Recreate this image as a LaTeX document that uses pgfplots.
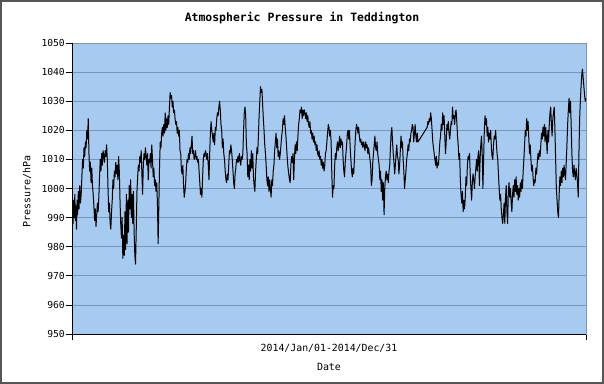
\documentclass[border=0pt]{standalone}
\usepackage{fontspec}
\setmainfont{DejaVu Sans Mono}
\setmonofont{DejaVu Sans Mono}
\usepackage{pgfplots}
\pgfplotsset{compat=1.18}
\definecolor{plotbg}{RGB}{166,202,240}
\definecolor{gridc}{RGB}{122,150,182}
\definecolor{framec}{RGB}{85,85,85}
\begin{document}
\begin{tikzpicture}
\useasboundingbox (-72bp,-50bp) rectangle (532bp,334bp);
\fill[white] (-72bp,-50bp) rectangle (532bp,334bp);
\draw[framec, line width=2bp] (-71bp,-49bp) rectangle (531bp,333bp);
\begin{axis}[
  at={(0,0)}, anchor=south west,
  scale only axis, width=514bp, height=291bp,
  xmin=0, xmax=364, ymin=950, ymax=1050,
  ytick={950,960,...,1050},
  xtick={0,364}, xticklabels={},
  ymajorgrids, grid style={gridc, line width=0.8bp},
  axis background/.style={fill=plotbg},
  axis line style={gridc, line width=0.8bp},
  tick style={black, line width=0.8bp},
  tick align=outside, major tick length=6bp,
  xtick pos=bottom, ytick pos=left,
  clip mode=individual,
  /pgf/number format/assume math mode=true,
  /pgf/number format/1000 sep={},
  ticklabel style={font=\fontsize{9.7}{11}\selectfont},
  yticklabel style={inner sep=1bp},
  title={Atmospheric Pressure in Teddington},
  every axis title/.style={font=\fontsize{11.5}{13}\selectfont\bfseries, at={(axis description cs:0.4475,1.0859)}, anchor=center},
  xlabel={Date},
  xlabel style={font=\fontsize{10}{12}\selectfont, at={(axis description cs:0.5,-0.113)}, anchor=center},
  ylabel={Pressure/hPa},
  ylabel style={font=\fontsize{10}{12}\selectfont, at={(axis description cs:-0.0875,0.491)}, anchor=center},
]
\addplot[black, line width=1bp, no marks, line join=round] coordinates {
(0,982)(0.4,993)(0.8,988)(1.2,996)(1.6,990)(2,998)(2.4,989)(2.8,994)(3.2,986)(3.6,996)(4,991)(4.5,999)(5,993)(5.5,1001)(6,995)(6.5,998)
(7,1004)(7.5,1010)(8,1007)(8.5,1014)(9,1011)(9.5,1016)(10,1014)(10.5,1020)(11,1017)(11.5,1024)(12,1012)(12.5,1006)(13,1009)(13.5,1002)
(14,1007)(14.5,1001)(15,998)(15.5,994)(16,989)(16.5,993)(17,987)(17.5,991)(18,995)(18.5,992)(19,997)(19.5,1004)(20,1010)(20.5,1006)
(21,1012)(21.5,1008)(22,1013)(22.5,1011)(23,1009)(23.5,1013)(24,1011)(24.5,1015)(25,1010)(25.5,1000)(26,992)(26.5,995)(27,988)(27.5,986)
(28,992)(28.5,996)(29,1003)(29.5,1000)(30,1006)(30.5,1004)(31,1009)(31.5,1005)(32,1008)(32.5,1003)(33,1011)(33.5,1006)(34,996)(34.5,988)
(35,983)(35.5,990)(36,976)(36.5,984)(37,977)(37.5,992)(38,979)(38.5,998)(39,981)(39.5,996)(40,985)(40.5,1001)(41,993)(41.5,1003)
(42,990)(42.5,998)(43,988)(43.5,999)(44,985)(44.5,977)(45,974)(45.5,986)(46,999)(46.5,1004)(47,1008)(47.5,1006)(48,1011)(48.5,1009)
(49,1013)(49.5,1005)(50,998)(50.5,1008)(51,1012)(51.5,1010)(52,1014)(52.5,1011)(53,1008)(53.5,1012)(54,1003)(54.5,1010)(55,1009)
(55.5,1012)(56,1007)(56.5,1015)(57,1010)(57.5,1004)(58,1007)(58.5,1001)(59,1003)(59.5,999)(60,1002)(60.5,995)(61,981)(61.5,994)
(62,1008)(62.5,1016)(63,1014)(63.5,1019)(64,1021)(64.5,1018)(65,1022)(65.5,1019)(66,1026)(66.5,1020)(67,1024)(67.5,1021)(68,1025)
(68.5,1022)(69,1028)(69.5,1033)(70,1031)(70.5,1032)(71,1028)(71.5,1030)(72,1026)(72.5,1027)(73,1024)(73.5,1022)(74,1023)(74.5,1019)
(75,1021)(75.5,1018)(76,1020)(76.5,1013)(77,1012)(77.5,1006)(78,1005)(78.5,1008)(79,1001)(79.5,997)(80,999)(80.5,1002)(81,1007)
(81.5,1010)(82,1009)(82.5,1012)(83,1010)(83.5,1014)(84,1012)(84.5,1015)(85,1018)(85.5,1012)(86,1013)(86.5,1010)(87,1011)(87.5,1013)
(88,1010)(88.5,1011)(89,1009)(89.5,1010)(90,1006)(90.5,1002)(91,998)(91.5,1000)(92,997)(92.5,1004)(93,1010)(93.5,1012)(94,1011)
(94.5,1013)(95,1012)(95.5,1010)(96,1012)(96.5,1008)(97,1003)(97.5,1012)(98,1019)(98.5,1023)(99,1020)(99.5,1018)(100,1016)(100.5,1019)
(101,1015)(101.5,1021)(102,1020)(102.5,1024)(103,1026)(103.5,1025)(104,1028)(104.5,1030)(105,1027)(105.5,1022)(106,1020)(106.5,1014)
(107,1017)(107.5,1012)(108,1010)(108.5,1006)(109,1003)(109.5,1002)(110,1005)(110.5,1003)(111,1008)(111.5,1013)(112,1012)(112.5,1015)
(113,1013)(113.5,1010)(114,1006)(114.5,1002)(115,1000)(115.5,1005)(116,1007)(116.5,1010)(117,1009)(117.5,1011)(118,1009)(118.5,1012)
(119,1010)(119.5,1008)(120,1011)(120.5,1010)(121,1012)(121.5,1020)(122,1026)(122.5,1028)(123,1025)(123.5,1015)(124,1012)(124.5,1004)
(125,1008)(125.5,1003)(126,1010)(126.5,1006)(127,1013)(127.5,1007)(128,1012)(128.5,1004)(129,1001)(129.5,999)(130,1006)(130.5,1010)
(131,1014)(131.5,1012)(132,1018)(132.5,1025)(133,1030)(133.5,1035)(134,1033)(134.5,1034)(135,1029)(135.5,1024)(136,1020)(136.5,1015)
(137,1012)(137.5,1008)(138,1003)(138.5,1001)(139,1004)(139.5,999)(140,1003)(140.5,1000)(141,997)(141.5,1003)(142,1001)(142.5,1006)
(143,1008)(143.5,1013)(144,1016)(144.5,1019)(145,1014)(145.5,1017)(146,1011)(146.5,1013)(147,1010)(147.5,1012)(148,1015)(148.5,1018)
(149,1020)(149.5,1024)(150,1022)(150.5,1025)(151,1021)(151.5,1018)(152,1014)(152.5,1010)(153,1007)(153.5,1005)(154,1003)(154.5,1002)
(155,1008)(155.5,1011)(156,1009)(156.5,1012)(157,1003)(157.5,1010)(158,1015)(158.5,1012)(159,1016)(159.5,1013)(160,1018)(160.5,1022)
(161,1024)(161.5,1027)(162,1026)(162.5,1028)(163,1024)(163.5,1027)(164,1025)(164.5,1027)(165,1026)(165.5,1024)(166,1026)(166.5,1023)
(167,1025)(167.5,1022)(168,1021)(168.5,1023)(169,1019)(169.5,1020)(170,1017)(170.5,1019)(171,1016)(171.5,1018)(172,1015)(172.5,1016)
(173,1013)(173.5,1015)(174,1012)(174.5,1011)(175,1013)(175.5,1010)(176,1011)(176.5,1008)(177,1010)(177.5,1007)(178,1009)(178.5,1006)
(179,1008)(179.5,1012)(180,1013)(180.5,1016)(181,1019)(181.5,1022)(182,1021)(182.5,1018)(183,1020)(183.5,1016)(184,1005)(184.5,997)
(185,1001)(185.5,1000)(186,1008)(186.5,1012)(187,1010)(187.5,1014)(188,1016)(188.5,1013)(189,1015)(189.5,1018)(190,1014)(190.5,1017)
(191,1015)(191.5,1016)(192,1010)(192.5,1006)(193,1004)(193.5,1009)(194,1012)(194.5,1015)(195,1019)(195.5,1020)(196,1017)(196.5,1020)
(197,1014)(197.5,1010)(198,1006)(198.5,1004)(199,1007)(199.5,1005)(200,1010)(200.5,1016)(201,1020)(201.5,1022)(202,1021)(202.5,1019)
(203,1021)(203.5,1018)(204,1016)(204.5,1017)(205,1015)(205.5,1016)(206,1014)(206.5,1016)(207,1015)(207.5,1013)(208,1016)(208.5,1014)
(209,1015)(209.5,1012)(210,1014)(210.5,1012)(211,1010)(211.5,1008)(212,1001)(212.5,1003)(213,1009)(213.5,1012)(214,1015)(214.5,1018)
(215,1014)(215.5,1013)(216,1016)(216.5,1012)(217,1010)(217.5,1008)(218,1003)(218.5,1006)(219,999)(219.5,1003)(220,996)(220.5,1002)
(221,991)(221.5,1000)(222,1004)(222.5,1006)(223,1003)(223.5,1005)(224,1002)(224.5,1006)(225,1008)(225.5,1014)(226,1019)(226.5,1021)
(227,1016)(227.5,1012)(228,1009)(228.5,1005)(229,1008)(229.5,1012)(230,1015)(230.5,1011)(231,1010)(231.5,1005)(232,1008)(232.5,1013)
(233,1018)(233.5,1014)(234,1016)(234.5,1010)(235,1006)(235.5,1000)(236,1003)(236.5,1006)(237,1010)(237.5,1012)(238,1015)(238.5,1013)
(239,1017)(239.5,1016)(240,1019)(240.5,1020)(241,1022)(241.5,1021)(242,1016)(242.5,1019)(243,1022)(243.5,1018)(244,1016)(244.5,1019)
(245,1016)(251.5,1021)(252,1023)(252.5,1022)(253,1024)(253.5,1023)(254,1026)(254.5,1024)(255,1020)(255.5,1016)(256,1014)(256.5,1012)
(257,1010)(257.5,1008)(258,1011)(258.5,1007)(259,1009)(259.5,1008)(260,1012)(260.5,1016)(261,1018)(261.5,1022)(262,1020)(262.5,1026)
(263,1022)(263.5,1025)(264,1018)(264.5,1012)(265,1016)(265.5,1022)(266,1020)(266.5,1023)(267,1019)(267.5,1017)(268,1020)(268.5,1023)
(269,1022)(269.5,1028)(270,1024)(270.5,1025)(271,1022)(271.5,1026)(272,1027)(272.5,1023)(273,1018)(273.5,1015)(274,1010)(274.5,1012)
(275,1003)(275.5,998)(276,995)(276.5,999)(277,992)(277.5,996)(278,993)(278.5,997)(279,1004)(279.5,1001)(280,1008)(280.5,1011)
(281,1010)(281.5,1012)(282,1005)(282.5,1000)(283,996)(283.5,1002)(284,1005)(284.5,1003)(285,1000)(285.5,1004)(286,1007)(286.5,1010)
(287,1006)(287.5,1011)(288,1013)(288.5,1001)(289,1010)(289.5,1015)(290,1018)(290.5,1012)(291,1000)(291.5,1010)(292,1020)(292.5,1025)
(293,1022)(293.5,1024)(294,1018)(294.5,1021)(295,1016)(295.5,1019)(296,1017)(296.5,1020)(297,1014)(297.5,1011)(298,1010)(298.5,1015)
(299,1018)(299.5,1017)(300,1020)(300.5,1016)(301,1012)(301.5,1010)(302,1005)(302.5,1000)(303,996)(303.5,998)(304,993)(304.5,990)
(305,988)(305.5,991)(306,995)(306.5,988)(307,997)(307.5,1001)(308,992)(308.5,988)(309,999)(309.5,1002)(310,997)(310.5,1000)(311,995)
(311.5,992)(312,998)(312.5,1001)(313,997)(313.5,1003)(314,999)(314.5,1004)(315,998)(315.5,1001)(316,996)(316.5,1000)(317,997)
(317.5,1002)(318,999)(318.5,1003)(319,1000)(319.5,1006)(320,1010)(320.5,1015)(321,1020)(321.5,1018)(322,1024)(322.5,1020)(323,1023)
(323.5,1017)(324,1012)(324.5,1015)(325,1010)(325.5,1006)(326,1008)(326.5,1004)(327,1001)(327.5,1003)(328,1002)(328.5,1007)(329,1005)
(329.5,1009)(330,1012)(330.5,1010)(331,1013)(331.5,1011)(332,1015)(332.5,1019)(333,1017)(333.5,1021)(334,1018)(334.5,1022)(335,1016)
(335.5,1021)(336,1017)(336.5,1012)(337,1020)(337.5,1016)(338,1022)(338.5,1026)(339,1028)(339.5,1022)(340,1018)(340.5,1024)(341,1026)
(341.5,1028)(342,1020)(342.5,1010)(343,1000)(343.5,996)(344,992)(344.5,990)(345,998)(345.5,1004)(346,1001)(346.5,1006)(347,1002)
(347.5,1007)(348,1004)(348.5,1008)(349,1005)(349.5,1003)(350,1009)(350.5,1015)(351,1022)(351.5,1027)(352,1031)(352.5,1026)(353,1030)
(353.5,1022)(354,1012)(354.5,1006)(355,1004)(355.5,1008)(356,1005)(356.5,1003)(357,1007)(357.5,1005)(358,1002)(358.5,997)(359,1012)
(359.5,1024)(360,1030)(360.5,1035)(361,1039)(361.5,1041)(362,1038)(362.5,1035)(363,1032)(363.5,1030)(364,1031)
};
\draw[black, line width=1bp] (rel axis cs:0,1) -- (rel axis cs:0,0) -- (rel axis cs:1,0);
\node[font=\fontsize{9.9}{12}\selectfont] at (axis description cs:0.5,-0.0498) {2014/Jan/01-2014/Dec/31};
\end{axis}
\end{tikzpicture}
\end{document}
